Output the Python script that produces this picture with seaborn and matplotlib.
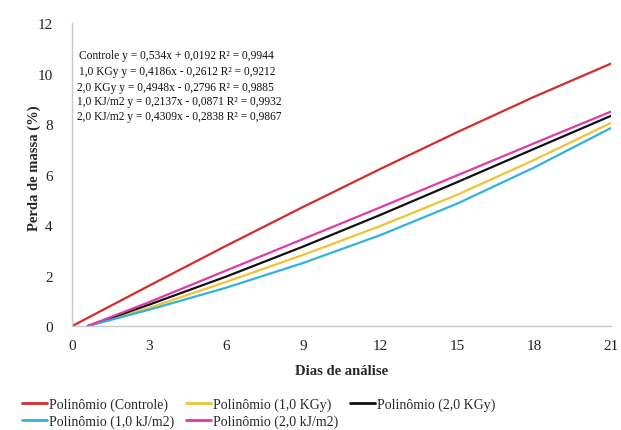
import matplotlib
matplotlib.use("Agg")
import matplotlib.pyplot as plt
import seaborn as sns
import pandas as pd

days_controle = [0, 3, 6, 9, 12, 15, 18, 21]
controle = [0, 1.60, 3.18, 4.72, 6.22, 7.68, 9.08, 10.4]

days_trat = [0.6, 3, 6, 9, 12, 15, 18, 21]
kgy_1 = [0, 0.72, 1.75, 2.82, 3.96, 5.20, 6.58, 8.05]
kgy_2 = [0, 0.85, 1.96, 3.15, 4.40, 5.70, 7.02, 8.33]
kjm2_1 = [0, 0.65, 1.52, 2.50, 3.60, 4.85, 6.28, 7.85]
kjm2_2 = [0, 0.95, 2.20, 3.45, 4.70, 5.97, 7.24, 8.50]

series_names = ["Polinômio (Controle)", "Polinômio (1,0 KGy)", "Polinômio (2,0 KGy)",
                "Polinômio (1,0 kJ/m2)", "Polinômio (2,0 kJ/m2)"]
colors = ["#d42b2b", "#f2c232", "#111111", "#2fb2e0", "#e03aa8"]

equations = [
    "Controle y = 0,534x + 0,0192 R² = 0,9944",
    "1,0 KGy y = 0,4186x - 0,2612 R² = 0,9212",
    "2,0 KGy y = 0,4948x - 0,2796 R² = 0,9885",
    "1,0 KJ/m2 y = 0,2137x - 0,0871 R² = 0,9932",
    "2,0 KJ/m2 y = 0,4309x - 0,2838 R² = 0,9867",
]

x_ticks = [0, 3, 6, 9, 12, 15, 18, 21]
y_ticks = [0, 2, 4, 6, 8, 10, 12]

rows = []
for d, v in zip(days_controle, controle):
    rows.append((d, v, series_names[0]))
for name, vals in zip(series_names[1:], [kgy_1, kgy_2, kjm2_1, kjm2_2]):
    for d, v in zip(days_trat, vals):
        rows.append((d, v, name))
df = pd.DataFrame(rows, columns=["dia", "perda", "serie"])

sns.set_theme(style="white")
plt.rcParams["font.family"] = ["Liberation Serif", "DejaVu Serif"]

fig = plt.figure(figsize=(6.21, 4.31), dpi=100)
ax = fig.add_axes([0.116, 0.241, 0.868, 0.703])

sns.lineplot(data=df, x="dia", y="perda", hue="serie", hue_order=series_names,
             palette=colors, linewidth=1.6, ax=ax, legend=False, sort=True)

ax.set_xlim(0, 21)
ax.set_ylim(0, 12)
ax.set_xticks(x_ticks)
ax.set_yticks(y_ticks)
ax.tick_params(axis="x", labelsize=11, length=0, pad=9, colors="#222222")
ax.tick_params(axis="y", labelsize=11, length=0, pad=14, colors="#222222")
for s in ["top", "right"]:
    ax.spines[s].set_visible(False)
for s in ["left", "bottom"]:
    ax.spines[s].set_color("#c8c8c8")
    ax.spines[s].set_linewidth(1.0)

ax.set_xlabel("Dias de análise", fontsize=10.5, fontweight="bold", labelpad=9)
ax.set_ylabel("Perda de massa (%)", fontsize=10.5, fontweight="bold")
ax.yaxis.set_label_coords(-0.057, 0.523)

y_text = [0.894, 0.842, 0.790, 0.743, 0.692]
x_text = [0.012, 0.013, 0.009, 0.009, 0.009]
for txt, xx, yy in zip(equations, x_text, y_text):
    ax.text(xx, yy, txt, transform=ax.transAxes, fontsize=8.3, va="center", ha="left", color="#111111")

# row-major order for a 3-column legend
order = [0, 3, 1, 4, 2]
handles = [plt.Line2D([], [], color=colors[i], lw=2) for i in order]
labels = [series_names[i] for i in order]
fig.legend(handles, labels, loc="lower left", bbox_to_anchor=(0.016, -0.025),
           ncol=3, frameon=False, fontsize=10, handlelength=1.8, handletextpad=0.12,
           columnspacing=0.85, labelspacing=0.25)

fig.savefig("out.png", dpi=100)
